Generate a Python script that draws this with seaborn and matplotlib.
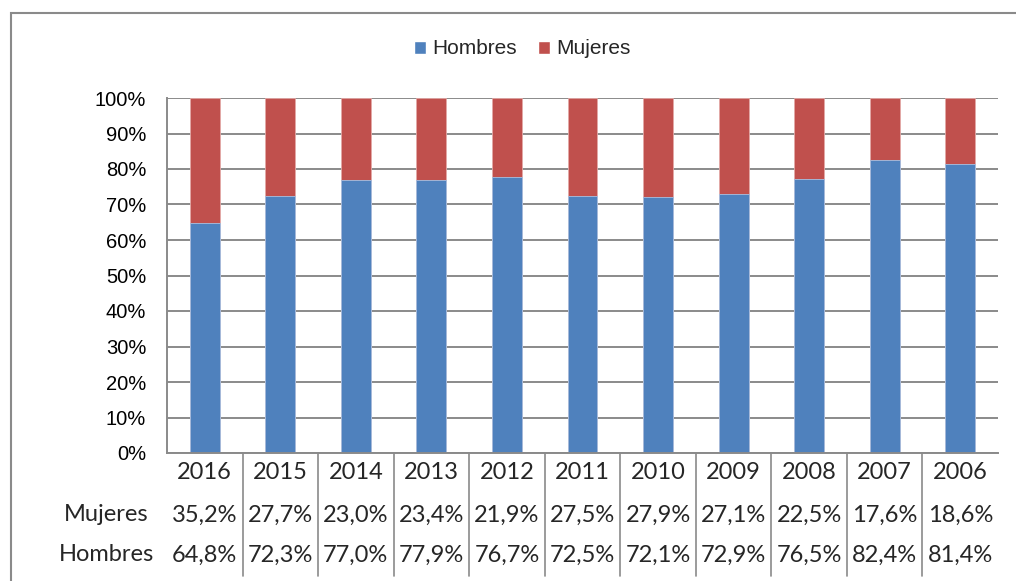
import numpy as np
import pandas as pd
import seaborn as sns
import matplotlib.pyplot as plt
import matplotlib.transforms as mtransforms
from matplotlib.patches import Patch, Rectangle


years = ["2016", "2015", "2014", "2013", "2012", "2011",
         "2010", "2009", "2008", "2007", "2006"]
mujeres = [35.2, 27.7, 23.0, 23.4, 21.9, 27.5, 27.9, 27.1, 22.5, 17.6, 18.6]
hombres = [64.8, 72.3, 77.0, 77.9, 76.7, 72.5, 72.1, 72.9, 76.5, 82.4, 81.4]

BLUE = "#4F81BD"
RED = "#C0504D"
GREY = "#8a8a8a"

df = pd.DataFrame({"year": years, "Mujeres": mujeres, "Hombres": hombres})
# 100% apilado: normalizar cada año
tot = df["Mujeres"] + df["Hombres"]
df["h_pct"] = df["Hombres"] / tot * 100
df["top"] = df["h_pct"] + df["Mujeres"] / tot * 100

sns.set_style("white")
plt.rcParams["font.family"] = ["Liberation Sans", "DejaVu Sans"]

fig = plt.figure(figsize=(10.16, 5.81), dpi=100)
ax = fig.add_axes([167 / 1016, 1 - 453 / 581, 831 / 1016, 355 / 581])

sns.barplot(data=df, x="year", y="top", order=years, color=RED,
            width=0.395, edgecolor="#e3a9a7", linewidth=0.6, saturation=1, ax=ax)
sns.barplot(data=df, x="year", y="h_pct", order=years, color=BLUE,
            width=0.395, edgecolor="#a9c1e2", linewidth=0.6, saturation=1, ax=ax)

ax.set_xlim(-0.5, len(years) - 0.5)
ax.set_ylim(0, 100)
ax.set_yticks(np.arange(0, 101, 10))
ax.set_yticklabels([f"{v}%" for v in range(0, 101, 10)], fontsize=14.5)
ax.yaxis.grid(True, color=GREY, linewidth=1.4)
ax.set_axisbelow(True)
ax.set_xlabel("")
ax.set_ylabel("")

for s in ["top", "right"]:
    ax.spines[s].set_visible(False)
for s in ["left", "bottom"]:
    ax.spines[s].set_color(GREY)
    ax.spines[s].set_linewidth(1.4)

ax.tick_params(axis="y", length=5, width=1.2, color=GREY, pad=10, colors="black")
ax.tick_params(axis="x", length=0, pad=14)
ax.set_xticks(range(len(years)))
ax.set_xticklabels(years, fontsize=17, family="Lato", va="center")

# tabla de datos bajo el eje
trans = mtransforms.blended_transform_factory(ax.transData, ax.transAxes)
row_y = {"Mujeres": -0.1746, "Hombres": -0.2873}
for name, vals in [("Mujeres", mujeres), ("Hombres", hombres)]:
    ax.text(-0.0734, row_y[name], name, transform=ax.transAxes, ha="center",
            va="center", fontsize=17, family="Lato")
    for i, v in enumerate(vals):
        ax.text(i, row_y[name], f"{v:.1f}%".replace(".", ","), transform=trans,
                ha="center", va="center", fontsize=17, family="Lato")

for i in range(1, len(years)):
    ax.plot([i - 0.5, i - 0.5], [0, -0.3465], transform=trans, color=GREY,
            linewidth=1.2, clip_on=False)

handles = [Patch(facecolor=BLUE, label="Hombres"), Patch(facecolor=RED, label="Mujeres")]
fig.legend(handles=handles, loc="center", bbox_to_anchor=(0.514, 1 - 49 / 581),
           ncol=2, frameon=False, fontsize=15, handlelength=0.6, handleheight=0.6,
           handletextpad=0.3, columnspacing=1.0)

# marco exterior del gráfico
fig.patches.append(Rectangle((10.5 / 1016, -0.1), 1.2, 1.1 - 12.7 / 581 + 0.0,
                             transform=fig.transFigure, fill=False,
                             edgecolor=GREY, linewidth=1.5))

fig.savefig("out.png", dpi=100)
